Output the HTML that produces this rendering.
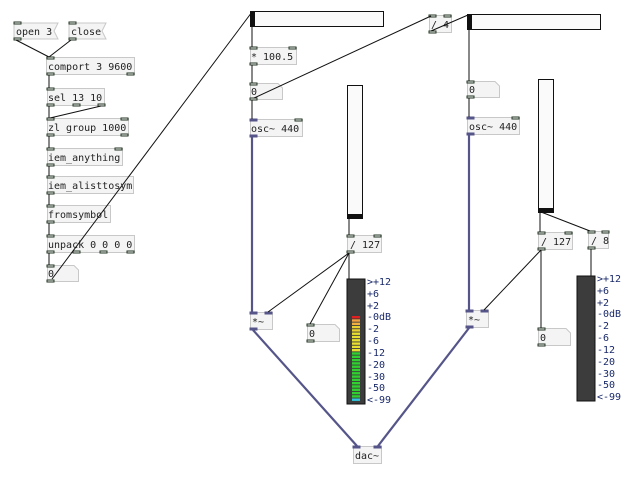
<!DOCTYPE html>
<html><head><meta charset="utf-8"><style>
html,body{margin:0;padding:0;background:#fff;width:638px;height:479px;overflow:hidden}
svg{display:block}
text{font-family:"DejaVu Sans Mono","Liberation Mono",monospace;font-size:10px;fill:#222}
.b{fill:#f4f4f4;stroke:#c8c8c8;stroke-width:1}
.io{fill:#f4f4f4;stroke:#223322;stroke-width:1}
.sig{fill:#55558a;stroke:#55558a}
.c{stroke:#111;stroke-width:1;fill:none}
.s{stroke:#55558a;stroke-width:2.2;fill:none}
.l{font-size:10px;fill:#1a2a6a}
</style></head><body>
<svg width="638" height="479" viewBox="0 0 638 479" xmlns="http://www.w3.org/2000/svg">

<!-- left column -->
<polygon class="b" points="14,23 58,23 54,31 58,39 14,39"/><text x="16" y="35">open 3</text>
<polygon class="b" points="69,23 106,23 102,31 106,39 69,39"/><text x="71" y="35">close</text>
<rect class="io" x="14" y="22" width="7" height="2"/><rect class="io" x="14" y="38" width="7" height="2"/>
<rect class="io" x="69" y="22" width="7" height="2"/><rect class="io" x="69" y="38" width="7" height="2"/>

<rect class="b" x="46.5" y="57.5" width="88" height="17"/><text x="48" y="70">comport 3 9600</text>
<rect class="io" x="47" y="57" width="7" height="2"/><rect class="io" x="47" y="73" width="7" height="2"/><rect class="io" x="127" y="73" width="7" height="2"/>

<rect class="b" x="47.5" y="88.5" width="57" height="17"/><text x="48" y="101">sel 13 10</text>
<rect class="io" x="47" y="88" width="7" height="2"/><rect class="io" x="47" y="104" width="7" height="2"/><rect class="io" x="73" y="104" width="7" height="2"/><rect class="io" x="98" y="104" width="7" height="2"/>

<rect class="b" x="47.5" y="118.5" width="81" height="17"/><text x="48" y="131">zl group 1000</text>
<rect class="io" x="47" y="118" width="7" height="2"/><rect class="io" x="121" y="118" width="7" height="2"/><rect class="io" x="47" y="134" width="7" height="2"/><rect class="io" x="121" y="134" width="7" height="2"/>

<rect class="b" x="47.5" y="148.5" width="75" height="17"/><text x="48" y="161">iem_anything</text>
<rect class="io" x="47" y="148" width="7" height="2"/><rect class="io" x="115" y="148" width="7" height="2"/><rect class="io" x="47" y="164" width="7" height="2"/>

<rect class="b" x="47.5" y="176.5" width="86" height="17"/><text x="48" y="189">iem_alisttosym</text>
<rect class="io" x="47" y="176" width="7" height="2"/><rect class="io" x="47" y="192" width="7" height="2"/>

<rect class="b" x="47.5" y="205.5" width="63" height="17"/><text x="48" y="218">fromsymbol</text>
<rect class="io" x="47" y="205" width="7" height="2"/><rect class="io" x="47" y="221" width="7" height="2"/>

<rect class="b" x="47.5" y="235.5" width="87" height="17"/><text x="48" y="248">unpack 0 0 0 0</text>
<rect class="io" x="47" y="235" width="7" height="2"/><rect class="io" x="47" y="251" width="7" height="2"/><rect class="io" x="73" y="251" width="7" height="2"/><rect class="io" x="100" y="251" width="7" height="2"/><rect class="io" x="127" y="251" width="7" height="2"/>

<polygon class="b" points="47.5,265.5 74,265.5 78.5,270 78.5,281.5 47.5,281.5"/><text x="48" y="277">0</text>
<rect class="io" x="47" y="265" width="7" height="2"/><rect class="io" x="47" y="280" width="7" height="2"/>

<!-- center column -->
<rect x="250.5" y="11.5" width="133" height="15" fill="#fafafa" stroke="#111"/>
<rect x="251" y="12" width="4" height="14" fill="#111"/>

<rect class="b" x="250.5" y="47.5" width="46" height="17"/><text x="251" y="60">* 100.5</text>
<rect class="io" x="250" y="47" width="7" height="2"/><rect class="io" x="289" y="47" width="7" height="2"/><rect class="io" x="250" y="63" width="7" height="2"/>

<polygon class="b" points="250.5,83.5 278,83.5 282.5,88 282.5,99.5 250.5,99.5"/><text x="251" y="95">0</text>
<rect class="io" x="250" y="83" width="7" height="2"/><rect class="io" x="250" y="98" width="7" height="2"/>

<rect class="b" x="250.5" y="119.5" width="52" height="17"/><text x="251" y="132">osc~ 440</text>
<rect class="sig" x="250" y="119" width="7" height="2"/><rect class="io" x="295" y="119" width="7" height="2"/><rect class="sig" x="250" y="135" width="7" height="2"/>

<rect x="347.5" y="85.5" width="15" height="133" fill="#fafafa" stroke="#111"/>
<rect x="348" y="214" width="14" height="4" fill="#111"/>

<rect class="b" x="347.5" y="235.5" width="34" height="17"/><text x="350" y="248">/ 127</text>
<rect class="io" x="347" y="235" width="7" height="2"/><rect class="io" x="374" y="235" width="7" height="2"/><rect class="io" x="347" y="251" width="7" height="2"/>

<rect class="b" x="250.5" y="312.5" width="22" height="17"/><text x="252" y="325">*~</text>
<rect class="sig" x="250" y="312" width="7" height="2"/><rect class="sig" x="265" y="312" width="7" height="2"/><rect class="sig" x="250" y="328" width="7" height="2"/>

<polygon class="b" points="307.5,324.5 335,324.5 339.5,329 339.5,341.5 307.5,341.5"/><text x="309" y="337">0</text>
<rect class="io" x="307" y="324" width="7" height="2"/><rect class="io" x="307" y="340" width="7" height="2"/>

<!-- VU 1 -->
<rect x="347" y="279" width="18" height="125" fill="#3c3c3c" stroke="#111"/>
<g>
<rect x="352" y="316" width="8" height="2.4" fill="#e02020"/>
<rect x="352" y="319.3" width="8" height="2.4" fill="#f0a040"/>
<rect x="352" y="322.6" width="8" height="2.4" fill="#f0b040"/>
<rect x="352" y="325.9" width="8" height="2.4" fill="#e8d030"/>
<rect x="352" y="329.2" width="8" height="2.4" fill="#e8d030"/>
<rect x="352" y="332.5" width="8" height="2.4" fill="#e8e030"/>
<rect x="352" y="335.8" width="8" height="2.4" fill="#e8e030"/>
<rect x="352" y="339.1" width="8" height="2.4" fill="#e8e030"/>
<rect x="352" y="342.4" width="8" height="2.4" fill="#e8e030"/>
<rect x="352" y="345.7" width="8" height="2.4" fill="#e8e030"/>
<rect x="352" y="349" width="8" height="2.4" fill="#e8e030"/>
<rect x="352" y="352.3" width="8" height="2.4" fill="#30d030"/>
<rect x="352" y="355.6" width="8" height="2.4" fill="#30d030"/>
<rect x="352" y="358.9" width="8" height="2.4" fill="#30d030"/>
<rect x="352" y="362.2" width="8" height="2.4" fill="#30d030"/>
<rect x="352" y="365.5" width="8" height="2.4" fill="#30d030"/>
<rect x="352" y="368.8" width="8" height="2.4" fill="#30d030"/>
<rect x="352" y="372.1" width="8" height="2.4" fill="#30d030"/>
<rect x="352" y="375.4" width="8" height="2.4" fill="#30d030"/>
<rect x="352" y="378.7" width="8" height="2.4" fill="#30d030"/>
<rect x="352" y="382" width="8" height="2.4" fill="#30d030"/>
<rect x="352" y="385.3" width="8" height="2.4" fill="#30d030"/>
<rect x="352" y="388.6" width="8" height="2.4" fill="#30d030"/>
<rect x="352" y="391.9" width="8" height="2.4" fill="#30d030"/>
<rect x="352" y="395.2" width="8" height="2.4" fill="#30d030"/>
<rect x="352" y="398.5" width="8" height="2.4" fill="#30c8e0"/>
</g>
<g>
<text class="l" x="367" y="285">&gt;+12</text>
<text class="l" x="367" y="297">+6</text>
<text class="l" x="367" y="309">+2</text>
<text class="l" x="367" y="320">-0dB</text>
<text class="l" x="367" y="332">-2</text>
<text class="l" x="367" y="344">-6</text>
<text class="l" x="367" y="356">-12</text>
<text class="l" x="367" y="368">-20</text>
<text class="l" x="367" y="380">-30</text>
<text class="l" x="367" y="391">-50</text>
<text class="l" x="367" y="403">&lt;-99</text>
</g>

<!-- dac -->
<rect class="b" x="353.5" y="446.5" width="28" height="17"/><text x="355" y="459">dac~</text>
<rect class="sig" x="353" y="446" width="7" height="2"/><rect class="sig" x="374" y="446" width="7" height="2"/>

<!-- right column -->
<rect class="b" x="429.5" y="15.5" width="22" height="17"/><text x="431" y="28">/ 4</text>
<rect class="io" x="429" y="15" width="7" height="2"/><rect class="io" x="444" y="15" width="7" height="2"/><rect class="io" x="429" y="31" width="7" height="2"/>

<rect x="467.5" y="14.5" width="133" height="15" fill="#fafafa" stroke="#111"/>
<rect x="468" y="15" width="4" height="14" fill="#111"/>

<polygon class="b" points="467.5,81.5 495,81.5 499.5,86 499.5,97.5 467.5,97.5"/><text x="469" y="93">0</text>
<rect class="io" x="467" y="81" width="7" height="2"/><rect class="io" x="467" y="96" width="7" height="2"/>

<rect class="b" x="467.5" y="117.5" width="52" height="17"/><text x="469" y="130">osc~ 440</text>
<rect class="sig" x="467" y="117" width="7" height="2"/><rect class="io" x="512" y="117" width="7" height="2"/><rect class="sig" x="467" y="133" width="7" height="2"/>

<rect x="538.5" y="79.5" width="15" height="133" fill="#fafafa" stroke="#111"/>
<rect x="539" y="208" width="14" height="4" fill="#111"/>

<rect class="b" x="538.5" y="232.5" width="34" height="17"/><text x="541" y="245">/ 127</text>
<rect class="io" x="538" y="232" width="7" height="2"/><rect class="io" x="565" y="232" width="7" height="2"/><rect class="io" x="538" y="248" width="7" height="2"/>

<rect class="b" x="588.5" y="231.5" width="20" height="17"/><text x="591" y="244">/ 8</text>
<rect class="io" x="588" y="231" width="7" height="2"/><rect class="io" x="602" y="231" width="7" height="2"/><rect class="io" x="588" y="247" width="7" height="2"/>

<rect class="b" x="466.5" y="310.5" width="22" height="17"/><text x="468" y="323">*~</text>
<rect class="sig" x="466" y="310" width="7" height="2"/><rect class="sig" x="481" y="310" width="7" height="2"/><rect class="sig" x="466" y="326" width="7" height="2"/>

<polygon class="b" points="538.5,328.5 566,328.5 570.5,333 570.5,345.5 538.5,345.5"/><text x="540" y="341">0</text>
<rect class="io" x="538" y="328" width="7" height="2"/><rect class="io" x="538" y="344" width="7" height="2"/>

<rect x="577" y="276" width="18" height="125" fill="#3c3c3c" stroke="#111"/>
<g>
<text class="l" x="597" y="282">&gt;+12</text>
<text class="l" x="597" y="294">+6</text>
<text class="l" x="597" y="306">+2</text>
<text class="l" x="597" y="317">-0dB</text>
<text class="l" x="597" y="329">-2</text>
<text class="l" x="597" y="341">-6</text>
<text class="l" x="597" y="353">-12</text>
<text class="l" x="597" y="365">-20</text>
<text class="l" x="597" y="377">-30</text>
<text class="l" x="597" y="388">-50</text>
<text class="l" x="597" y="400">&lt;-99</text>
</g>

<!-- connections (drawn on top) -->
<g class="c">
<line x1="16" y1="40" x2="49" y2="57"/><line x1="71" y1="40" x2="49" y2="57"/>
<line x1="49" y1="75" x2="49" y2="88"/><line x1="49" y1="106" x2="49" y2="118"/>
<line x1="101" y1="106" x2="50" y2="118"/>
<line x1="49" y1="136" x2="49" y2="148"/><line x1="49" y1="166" x2="49" y2="176"/>
<line x1="49" y1="194" x2="49" y2="205"/><line x1="49" y1="223" x2="49" y2="235"/>
<line x1="49" y1="253" x2="49" y2="265"/>
<line x1="52" y1="279" x2="252" y2="12"/>
<line x1="252" y1="27" x2="252" y2="47"/><line x1="252" y1="65" x2="252" y2="83"/>
<line x1="252" y1="100" x2="252" y2="119"/>
<line x1="254" y1="98" x2="431" y2="16"/>
<line x1="431" y1="31" x2="468" y2="15"/>
<line x1="349" y1="219" x2="349" y2="235"/>
<line x1="349" y1="253" x2="268" y2="312"/><line x1="349" y1="253" x2="310" y2="324"/>
<line x1="349" y1="253" x2="349" y2="279"/>
<line x1="469" y1="30" x2="469" y2="81"/><line x1="469" y1="98" x2="469" y2="117"/>
<line x1="540" y1="213" x2="540" y2="232"/><line x1="541" y1="212" x2="590" y2="231"/>
<line x1="541" y1="250" x2="484" y2="310"/><line x1="541" y1="250" x2="541" y2="328"/>
<line x1="591" y1="249" x2="591" y2="276"/>
</g>
<g class="s">
<line x1="252" y1="137" x2="252" y2="312"/>
<line x1="469" y1="135" x2="469" y2="310"/>
<line x1="253" y1="330" x2="357" y2="446"/>
<line x1="469" y1="328" x2="378" y2="446"/>
</g>
</svg>
</body></html>
